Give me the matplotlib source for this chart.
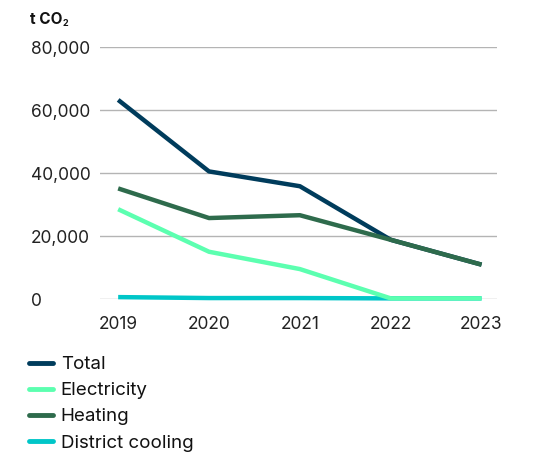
import matplotlib
matplotlib.use('Agg')
import matplotlib.pyplot as plt

plt.rcParams['font.family'] = ['Inter', 'DejaVu Sans']

years = [2019, 2020, 2021, 2022, 2023]
total = [63200, 40500, 35800, 18800, 10900]
electricity = [28500, 15000, 9500, 200, 200]
heating = [35100, 25700, 26600, 18800, 10900]
district_cooling = [600, 300, 300, 200, 200]

yticks = [0, 20000, 40000, 60000, 80000]
ytick_labels = ['0', '20,000', '40,000', '60,000', '80,000']

series = [
    ('Total', total, '#003c5c'),
    ('Electricity', electricity, '#5cffb0'),
    ('Heating', heating, '#2e6b4c'),
    ('District cooling', district_cooling, '#00c6c8'),
]

fig = plt.figure(figsize=(5.37, 4.53), dpi=100)
ax = fig.add_axes([100 / 537, 1 - 299 / 453, 397 / 537, 252 / 453])

# draw order: cooling at the bottom, total under heating
zorders = {'Total': 4, 'Electricity': 3, 'Heating': 5, 'District cooling': 2}
handles = []
for name, vals, col in series:
    ln, = ax.plot(years, vals, color=col, lw=3.2, solid_capstyle='butt',
                  clip_on=False, zorder=zorders[name], label=name)
    handles.append(ln)

ax.set_xlim(2018.8, 2023.17)
ax.set_ylim(0, 80000)
ax.set_yticks(yticks)
ax.set_yticklabels(ytick_labels, ha='left')
ax.set_xticks(years)
ax.set_xticklabels([str(y) for y in years])
ax.tick_params(axis='y', length=0, pad=50, labelsize=12.5, labelcolor='#222222')
ax.tick_params(axis='x', length=0, pad=12, labelsize=12.5, labelcolor='#222222')
ax.grid(axis='y', color='#b4b4b4', lw=1)
ax.set_axisbelow(True)
for s in ax.spines.values():
    s.set_visible(False)

fig.text(30 / 537, 1 - 20 / 453, 't CO', fontsize=11, fontweight='bold',
         va='center', ha='left', color='#111111')
fig.text(63 / 537, 1 - 24 / 453, '2', fontsize=6.5, fontweight='bold',
         va='center', ha='left', color='#111111')

leg = fig.legend(handles=handles, loc='upper left', bbox_to_anchor=(29 / 537, 1 - 356 / 453),
                 frameon=False, fontsize=13.5, handlelength=1.3, handletextpad=0.4,
                 labelspacing=0.48, borderaxespad=0, borderpad=0)
for h in leg.legend_handles:
    h.set_linewidth(3.5)
    h.set_solid_capstyle('round')
for t in leg.get_texts():
    t.set_color('#111111')

fig.savefig('out.png', dpi=100)
